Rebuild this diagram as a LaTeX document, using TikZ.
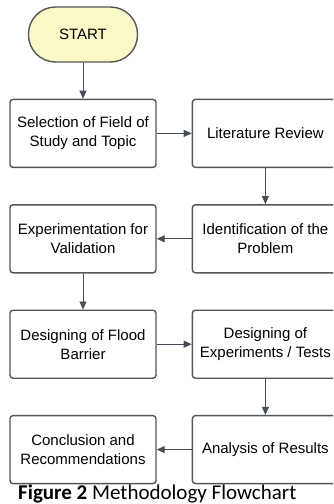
\documentclass[tikz,border=0pt]{standalone}
\usepackage{fontspec}
\setmainfont{Liberation Sans}
\newfontfamily\capfont{Carlito}
\usetikzlibrary{positioning,arrows.meta}

\definecolor{startfill}{RGB}{251,248,200}
\definecolor{boxline}{RGB}{85,85,85}
\definecolor{arrowline}{RGB}{70,78,90}

\begin{document}
\begin{tikzpicture}[
% node style
rect/.style={rectangle, rounded corners=3pt, draw=boxline, line width=1.4pt, fill=white,
  minimum width=146pt, minimum height=68pt, align=center, inner sep=0pt,
  font=\fontsize{15}{19}\selectfont},
startbox/.style={rect, fill=startfill, rounded corners=27pt, minimum width=109pt, minimum height=55pt},
flow/.style={draw=arrowline, line width=0.9pt, -{Triangle[length=8pt,width=7pt]}},
node distance=36pt and 35pt
]

\clip (0,0) rectangle (333pt,-504pt);

% nodes
\node[startbox] (start) at (83pt,-34.5pt) {START};
\node[rect] (sel) [below=of start] {Selection of Field of\\Study and Topic};
\node[rect] (lit) [right=of sel] {Literature Review};
\node[rect] (ident) [below=of lit] {Identification of the\\Problem};
\node[rect] (exper) [below=of sel] {Experimentation for\\Validation};
\node[rect] (flood) [below=of exper] {Designing of Flood\\Barrier};
\node[rect] (tests) [below=of ident] {Designing of\\Experiments / Tests};
\node[rect] (anal) [below=of tests] {Analysis of Results};
\node[rect] (concl) [below=of flood] {Conclusion and\\Recommendations};

% caption
\node[anchor=base west, inner sep=0pt, font=\capfont\fontsize{21}{25}\selectfont] (caption)
  at (18pt,-499pt) {\textbf{Figure 2} Methodology Flowchart};

% draw lines between nodes
\draw[flow] (start) -- (sel);
\draw[flow] (sel) -- (lit);
\draw[flow] (lit) -- (ident);
\draw[flow] (ident) -- (exper);
\draw[flow] (exper) -- (flood);
\draw[flow] (flood) -- (tests);
\draw[flow] (tests) -- (anal);
\draw[flow] (anal) -- (concl);

\end{tikzpicture}
\end{document}
